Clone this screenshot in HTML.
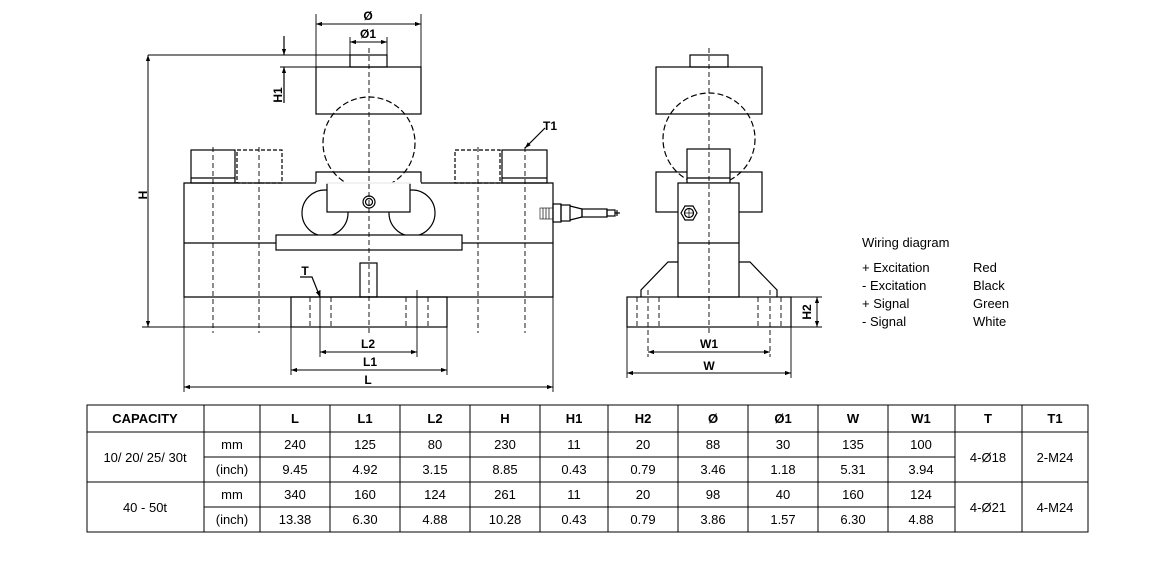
<!DOCTYPE html>
<html><head><meta charset="utf-8"><style>
html,body{margin:0;padding:0;background:#fff;}
body{width:1171px;height:573px;position:relative;overflow:hidden;font-family:"Liberation Sans",sans-serif;}
svg{position:absolute;left:0;top:0;}
text{font-family:"Liberation Sans",sans-serif;}
</style></head><body>
<svg width="1171" height="573" viewBox="0 0 1171 573">
<defs>
<marker id="a" viewBox="0 0 10 10" refX="10" refY="5" markerWidth="9" markerHeight="6" orient="auto-start-reverse" markerUnits="userSpaceOnUse"><path d="M0,1.5 L10,5 L0,8.5z" fill="#000"/></marker>
</defs>
<g fill="none" stroke="#000" stroke-width="1.2">
<rect x="350" y="55" width="37" height="12"/>
<rect x="316" y="67" width="105" height="47"/>
<circle cx="369" cy="143" r="46" stroke-dasharray="6,3"/>
<rect x="191" y="150" width="44" height="33"/>
<line x1="191" y1="178" x2="235" y2="178"/>
<rect x="237" y="150" width="45" height="33" stroke-dasharray="4,2"/>
<rect x="455" y="150" width="45" height="33" stroke-dasharray="4,2"/>
<rect x="502" y="150" width="45" height="33"/>
<line x1="502" y1="178" x2="547" y2="178"/>
<path d="M184,183 L316,183 L316,172 L421,172 L421,183 L553,183 L553,297 L184,297 Z"/>
<circle cx="325" cy="213" r="23"/>
<circle cx="412" cy="213" r="23"/>
<rect x="327" y="183" width="83" height="29" fill="#fff"/>
<line x1="316" y1="183" x2="421" y2="183" stroke="#fff" stroke-width="1.5"/>
<line x1="184" y1="243" x2="276" y2="243"/>
<line x1="462" y1="243" x2="553" y2="243"/>
<rect x="276" y="235" width="186" height="15" fill="#fff"/>
<rect x="360" y="263" width="17" height="34"/>
<rect x="291" y="297" width="156" height="30"/>
<circle cx="369" cy="202" r="6"/><circle cx="369" cy="202" r="3.5"/>
<g stroke-dasharray="5,3" stroke-width="0.9">
<line x1="369" y1="48" x2="369" y2="335"/>
<line x1="213" y1="147" x2="213" y2="333"/>
<line x1="259" y1="147" x2="259" y2="333"/>
<line x1="478" y1="147" x2="478" y2="333"/>
<line x1="525" y1="147" x2="525" y2="333"/>
<line x1="310" y1="297" x2="310" y2="327"/><line x1="331" y1="297" x2="331" y2="327"/>
<line x1="406" y1="297" x2="406" y2="327"/><line x1="428" y1="297" x2="428" y2="327"/>
</g>
<rect x="540" y="208" width="13" height="11" stroke-width="0.6"/>
<g stroke-width="0.7"><line x1="543" y1="208" x2="543" y2="219"/><line x1="546" y1="208" x2="546" y2="219"/><line x1="549" y1="208" x2="549" y2="219"/></g>
<rect x="553" y="204" width="8" height="18"/><rect x="561" y="205" width="9" height="16"/>
<path d="M570,206 L582,209 L582,217 L570,220"/>
<rect x="582" y="209" width="25" height="8"/>
<rect x="607" y="210" width="8" height="6"/>
<line x1="615" y1="213" x2="620" y2="213"/><line x1="617" y1="210" x2="617" y2="216"/>
<g stroke-width="0.9">
<line x1="316" y1="14" x2="316" y2="67"/><line x1="421" y1="14" x2="421" y2="67"/>
<line x1="350" y1="37" x2="350" y2="55"/><line x1="387" y1="37" x2="387" y2="55"/>
<line x1="148" y1="55" x2="350" y2="55"/>
<line x1="280" y1="67" x2="316" y2="67"/>
<line x1="142" y1="327" x2="291" y2="327"/>
<line x1="184" y1="297" x2="184" y2="392"/><line x1="553" y1="297" x2="553" y2="392"/>
<line x1="291" y1="327" x2="291" y2="375"/><line x1="447" y1="327" x2="447" y2="375"/>
<line x1="320" y1="290" x2="320" y2="357"/><line x1="417" y1="290" x2="417" y2="357"/>
</g>
<g stroke-width="1" marker-start="url(#a)" marker-end="url(#a)">
<line x1="316" y1="24" x2="421" y2="24"/>
<line x1="350" y1="42" x2="387" y2="42"/>
<line x1="148" y1="55" x2="148" y2="327"/>
<line x1="320" y1="352" x2="417" y2="352"/>
<line x1="291" y1="370" x2="447" y2="370"/>
<line x1="184" y1="387" x2="553" y2="387"/>
<line x1="648" y1="352" x2="770" y2="352"/>
<line x1="627" y1="373" x2="791" y2="373"/>
<line x1="817" y1="297" x2="817" y2="327"/>
</g>
<line x1="284" y1="36" x2="284" y2="55" marker-end="url(#a)"/>
<line x1="284" y1="103" x2="284" y2="67" marker-end="url(#a)"/>
<path d="M300,277 L312,277 L320,297" marker-end="url(#a)"/>
<path d="M545,128 L525,148" marker-end="url(#a)"/>
<rect x="690" y="55" width="38" height="12"/>
<rect x="656" y="67" width="106" height="47"/>
<rect x="656" y="172" width="106" height="40"/>
<circle cx="709" cy="139" r="46" stroke-dasharray="6,3" />
<rect x="687" y="149" width="43" height="34" fill="#fff"/>
<line x1="687" y1="178" x2="730" y2="178"/>
<rect x="678" y="183" width="61" height="114" fill="#fff"/>
<line x1="678" y1="243" x2="739" y2="243"/>
<path d="M678,262 L668,262 L641,290 L641,297"/>
<path d="M739,262 L750,262 L777,290 L777,297"/>
<rect x="627" y="297" width="164" height="30"/>
<polygon points="697,213 693,220 685,220 681,213 685,206 693,206"/>
<circle cx="689" cy="213" r="4.5"/>
<line x1="685" y1="213" x2="693" y2="213" stroke-width="0.7"/><line x1="689" y1="209" x2="689" y2="217" stroke-width="0.7"/>
<g stroke-dasharray="5,3" stroke-width="0.9">
<line x1="709" y1="48" x2="709" y2="335"/>
<line x1="637" y1="297" x2="637" y2="327"/><line x1="648" y1="290" x2="648" y2="357"/><line x1="659" y1="297" x2="659" y2="327"/>
<line x1="758" y1="297" x2="758" y2="327"/><line x1="770" y1="290" x2="770" y2="357"/><line x1="781" y1="297" x2="781" y2="327"/>
</g>
<g stroke-width="0.9">
<line x1="627" y1="327" x2="627" y2="378"/><line x1="791" y1="327" x2="791" y2="378"/>
<line x1="791" y1="297" x2="822" y2="297"/><line x1="791" y1="327" x2="822" y2="327"/>
</g>
</g>
<g font-weight="bold" font-size="12" text-anchor="middle" fill="#000">
<text x="368" y="20">Ø</text>
<text x="368" y="38">Ø1</text>
<text x="368" y="348">L2</text>
<text x="370" y="366">L1</text>
<text x="368" y="384">L</text>
<text x="305" y="275">T</text>
<text x="550" y="130">T1</text>
<text x="709" y="348">W1</text>
<text x="709" y="370">W</text>
<text transform="translate(282,95) rotate(-90)">H1</text>
<text transform="translate(147,195) rotate(-90)">H</text>
<text transform="translate(811,312) rotate(-90)">H2</text>
</g>
<g font-size="13" fill="#000">
<text x="862" y="247">Wiring diagram</text>
<text x="862" y="272">+ Excitation</text><text x="973" y="272">Red</text>
<text x="862" y="290">- Excitation</text><text x="973" y="290">Black</text>
<text x="862" y="308">+ Signal</text><text x="973" y="308">Green</text>
<text x="862" y="326">- Signal</text><text x="973" y="326">White</text>
</g>
<g stroke="#000" stroke-width="1" fill="none">
<rect x="87" y="405" width="1001" height="127"/>
<line x1="87" y1="432" x2="1088" y2="432"/>
<line x1="87" y1="482" x2="1088" y2="482"/>
<line x1="204" y1="457" x2="955" y2="457"/>
<line x1="204" y1="507" x2="955" y2="507"/>
<line x1="204" y1="405" x2="204" y2="532"/>
<line x1="260" y1="405" x2="260" y2="532"/>
<line x1="330" y1="405" x2="330" y2="532"/>
<line x1="400" y1="405" x2="400" y2="532"/>
<line x1="470" y1="405" x2="470" y2="532"/>
<line x1="540" y1="405" x2="540" y2="532"/>
<line x1="608" y1="405" x2="608" y2="532"/>
<line x1="678" y1="405" x2="678" y2="532"/>
<line x1="748" y1="405" x2="748" y2="532"/>
<line x1="818" y1="405" x2="818" y2="532"/>
<line x1="888" y1="405" x2="888" y2="532"/>
<line x1="955" y1="405" x2="955" y2="532"/>
<line x1="1022" y1="405" x2="1022" y2="532"/>
</g>
<g font-size="13" text-anchor="middle" fill="#000">
<g font-weight="bold">
<text x="145" y="423">CAPACITY</text>
<text x="295" y="423">L</text><text x="365" y="423">L1</text><text x="435" y="423">L2</text>
<text x="505" y="423">H</text><text x="574" y="423">H1</text><text x="643" y="423">H2</text>
<text x="713" y="423">Ø</text><text x="783" y="423">Ø1</text><text x="853" y="423">W</text>
<text x="921" y="423">W1</text><text x="988" y="423">T</text><text x="1055" y="423">T1</text>
</g>
<text x="145" y="462">10/ 20/ 25/ 30t</text>
<text x="145" y="512">40 - 50t</text>
<text x="232" y="449">mm</text><text x="232" y="474">(inch)</text>
<text x="232" y="499">mm</text><text x="232" y="524">(inch)</text>
<text x="295" y="449">240</text><text x="365" y="449">125</text><text x="435" y="449">80</text><text x="505" y="449">230</text><text x="574" y="449">11</text><text x="643" y="449">20</text><text x="713" y="449">88</text><text x="783" y="449">30</text><text x="853" y="449">135</text><text x="921" y="449">100</text>
<text x="295" y="474">9.45</text><text x="365" y="474">4.92</text><text x="435" y="474">3.15</text><text x="505" y="474">8.85</text><text x="574" y="474">0.43</text><text x="643" y="474">0.79</text><text x="713" y="474">3.46</text><text x="783" y="474">1.18</text><text x="853" y="474">5.31</text><text x="921" y="474">3.94</text>
<text x="295" y="499">340</text><text x="365" y="499">160</text><text x="435" y="499">124</text><text x="505" y="499">261</text><text x="574" y="499">11</text><text x="643" y="499">20</text><text x="713" y="499">98</text><text x="783" y="499">40</text><text x="853" y="499">160</text><text x="921" y="499">124</text>
<text x="295" y="524">13.38</text><text x="365" y="524">6.30</text><text x="435" y="524">4.88</text><text x="505" y="524">10.28</text><text x="574" y="524">0.43</text><text x="643" y="524">0.79</text><text x="713" y="524">3.86</text><text x="783" y="524">1.57</text><text x="853" y="524">6.30</text><text x="921" y="524">4.88</text>
<text x="988" y="462">4-Ø18</text><text x="1055" y="462">2-M24</text>
<text x="988" y="512">4-Ø21</text><text x="1055" y="512">4-M24</text>
</g>
</svg>
</body></html>
